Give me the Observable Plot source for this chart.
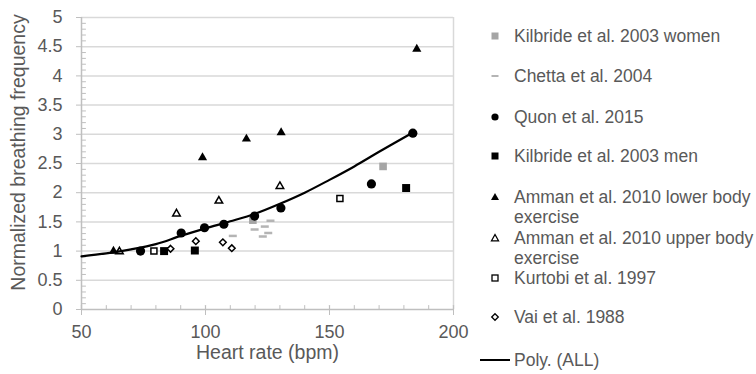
<!DOCTYPE html>
<html><head><meta charset="utf-8">
<script src="https://cdn.jsdelivr.net/npm/d3@7"></script>
<script src="https://cdn.jsdelivr.net/npm/@observablehq/plot@0.6"></script>
<style>
body{margin:0;background:#fff;}
#wrap{position:relative;width:756px;height:374px;overflow:hidden;font-family:"Liberation Sans",Arial,sans-serif;color:#595959;}
#chart{position:absolute;left:0;top:0;}
.li{position:absolute;left:514px;font-size:17.5px;line-height:20.5px;white-space:nowrap;}
.lm{position:absolute;overflow:visible;}
</style></head><body><div id="wrap"><div id="chart"></div><div id="legend"></div></div>
<script>
// ---- data ----
const kilbrideWomenX = [119.1, 171.6];
const kilbrideWomenY = [1.53, 2.45];
const chettaX = [111.0, 119.8, 123.9, 126.2, 125.3, 123.1];
const chettaY = [1.26, 1.37, 1.42, 1.52, 1.31, 1.25];
const quonX = [73.8, 90.2, 99.6, 107.4, 119.8, 130.4, 166.9, 183.6];
const quonY = [1.00, 1.31, 1.40, 1.46, 1.60, 1.74, 2.15, 3.02];
const kilbrideMenX = [83.3, 95.7, 180.9];
const kilbrideMenY = [1.00, 1.01, 2.08];
const ammanLowerX = [62.9, 98.8, 116.5, 130.5, 185.2];
const ammanLowerY = [1.00, 2.60, 2.92, 3.03, 4.46];
const ammanUpperX = [65.3, 88.3, 105.4, 130.0];
const ammanUpperY = [0.99, 1.64, 1.86, 2.11];
const kurtobiX = [79.2, 154.2];
const kurtobiY = [1.00, 1.90];
const vaiX = [85.9, 96.1, 107.0, 110.6];
const vaiY = [1.04, 1.17, 1.15, 1.05];
// Poly. (ALL) trendline
const polyX = [50, 60, 70, 80, 90, 100, 110, 120, 130, 140, 150, 160, 170, 184];
const polyY = [0.91, 0.96, 1.03, 1.12, 1.26, 1.39, 1.51, 1.64, 1.81, 2.00, 2.22, 2.45, 2.70, 3.04];

const xTicks = [50, 100, 150, 200];
const xMinorTicks = d3.range(60, 200, 10).filter(v => v % 50 !== 0);
const yTicks = [0, 0.5, 1, 1.5, 2, 2.5, 3, 3.5, 4, 4.5, 5];
const yMinorTicks = d3.range(0, 50).map(i => i / 10).filter((v, i) => i % 5 !== 0);

const legendLabels = ["Kilbride et al. 2003 women", "Chetta et al. 2004", "Quon et al. 2015",
  "Kilbride et al. 2003 men", "Amman et al. 2010 lower body exercise",
  "Amman et al. 2010 upper body exercise", "Kurtobi et al. 1997", "Vai et al. 1988", "Poly. (ALL)"];

// ---- helpers ----
const pts = (xs, ys) => xs.map((x, i) => ({x, y: ys[i]}));
const tickShape = {draw(ctx, l) { ctx.moveTo(0, 0); ctx.lineTo(0, -l); }};
const dashSymbol = {draw(ctx, size) { ctx.rect(-4, -1.25, 8, 2.5); }};
const GRID = "#d9d9d9", AXIS = "#bfbfbf", TXT = "#595959", GRAY = "#a5a5a5";

const chart = Plot.plot({
  width: 756, height: 374,
  marginLeft: 81, marginRight: 303, marginTop: 17, marginBottom: 65,
  x: {domain: [50, 200]},
  y: {domain: [0, 5]},
  style: {fontFamily: "'Liberation Sans', Arial, sans-serif", color: TXT, background: "transparent", overflow: "visible"},
  marks: [
    Plot.ruleY(yTicks.filter(v => v > 0), {stroke: GRID, strokeWidth: 1.5}),
    Plot.ruleX([200], {stroke: GRID, strokeWidth: 1.5}),
    Plot.ruleX([50], {stroke: AXIS, strokeWidth: 1.5}),
    Plot.ruleY([0], {stroke: AXIS, strokeWidth: 1.5}),
    Plot.vector(yMinorTicks, {x: 50, y: d => d, rotate: 90, length: 4, anchor: "start", shape: tickShape, stroke: AXIS, strokeWidth: 1}),
    Plot.vector(xMinorTicks, {x: d => d, y: 0, rotate: 0, length: 4, anchor: "start", shape: tickShape, stroke: AXIS, strokeWidth: 1}),
    Plot.vector(xTicks, {x: d => d, y: 0, rotate: 0, length: 4, anchor: "start", shape: tickShape, stroke: AXIS, strokeWidth: 1.2}),
    Plot.axisY(yTicks, {tickSize: 5, tickPadding: 14, fontSize: 18, stroke: AXIS, fill: TXT, label: null, tickFormat: d => String(d)}),
    Plot.axisX(xTicks, {tickSize: 6, tickPadding: 10, fontSize: 18, stroke: AXIS, fill: TXT, label: null, tickFormat: d => String(d)}),
    Plot.text(["Normalized breathing frequency"], {frameAnchor: "left", textAnchor: "middle", lineAnchor: "middle", rotate: -90, dx: -63, dy: -11, fontSize: 19.5, fill: TXT}),
    Plot.text(["Heart rate (bpm)"], {frameAnchor: "bottom", textAnchor: "middle", lineAnchor: "middle", dy: 43, fontSize: 19.5, fill: TXT}),
    // series
    Plot.dot(pts(chettaX, chettaY), {x: "x", y: "y", symbol: dashSymbol, r: 4, fill: "#b4b4b4"}),
    Plot.dot(pts(kilbrideWomenX, kilbrideWomenY), {x: "x", y: "y", symbol: "square", r: 4.3, fill: GRAY}),
    Plot.dot(pts(quonX, quonY), {x: "x", y: "y", symbol: "circle", r: 4.6, fill: "black"}),
    Plot.dot(pts(kilbrideMenX, kilbrideMenY), {x: "x", y: "y", symbol: "square", r: 4.5, fill: "black"}),
    Plot.dot(pts(ammanLowerX, ammanLowerY), {x: "x", y: "y", symbol: "triangle", r: 3.4, fill: "black"}),
    Plot.dot(pts(ammanUpperX, ammanUpperY), {x: "x", y: "y", symbol: "triangle", r: 2.8, fill: "white", stroke: "black", strokeWidth: 1.5}),
    Plot.dot(pts(kurtobiX, kurtobiY), {x: "x", y: "y", symbol: "square", r: 3.4, fill: "white", stroke: "black", strokeWidth: 1.5}),
    Plot.dot(pts(vaiX, vaiY), {x: "x", y: "y", symbol: "diamond2", r: 3.0, fill: "white", stroke: "black", strokeWidth: 1.5}),
    Plot.line(pts(polyX, polyY), {x: "x", y: "y", curve: "catmull-rom", stroke: "black", strokeWidth: 2.2})
  ]
});
document.getElementById("chart").appendChild(chart);

// ---- legend (HTML) ----
const legend = document.getElementById("legend");
const markerSvgs = [
  `<rect x="-3.5" y="-3.5" width="7" height="7" fill="${GRAY}"/>`,
  `<rect x="-3.5" y="-1" width="7" height="2" fill="#b4b4b4"/>`,
  `<circle r="3.6" fill="black"/>`,
  `<rect x="-3.5" y="-3.5" width="7" height="7" fill="black"/>`,
  `<path d="M0,-4L4,3L-4,3Z" fill="black"/>`,
  `<path d="M0,-3.5L3.5,2.8L-3.5,2.8Z" fill="white" stroke="black" stroke-width="1.3"/>`,
  `<rect x="-3" y="-3" width="6" height="6" fill="white" stroke="black" stroke-width="1.3"/>`,
  `<path d="M0,-3.3L3.3,0L0,3.3L-3.3,0Z" fill="white" stroke="black" stroke-width="1.3"/>`,
  `<line x1="-15" x2="15" y1="0" y2="0" stroke="black" stroke-width="2"/>`
];
const markerCx = [495, 495, 495, 495, 495, 495, 495, 495, 495];
const rowCy = [36, 76, 117, 156, 197, 238, 278, 317, 360];
legendLabels.forEach((label, i) => {
  const cy = rowCy[i];
  const svgNS = "http://www.w3.org/2000/svg";
  const s = document.createElementNS(svgNS, "svg");
  s.setAttribute("class", "lm");
  s.setAttribute("width", 40); s.setAttribute("height", 20);
  s.style.left = (i === 8 ? 480 : markerCx[i] - 20) + "px";
  s.style.top = (cy - 10) + "px";
  s.innerHTML = `<g transform="translate(${i === 8 ? 15 : 20},10)">${markerSvgs[i]}</g>`;
  legend.appendChild(s);
  const d = document.createElement("div");
  d.className = "li";
  d.style.top = (cy - 10.25) + "px";
  if (label.endsWith(" exercise")) {
    d.innerHTML = label.replace(/ exercise$/, "") + "<br>exercise";
  } else {
    d.textContent = label;
  }
  legend.appendChild(d);
});
</script></body></html>
